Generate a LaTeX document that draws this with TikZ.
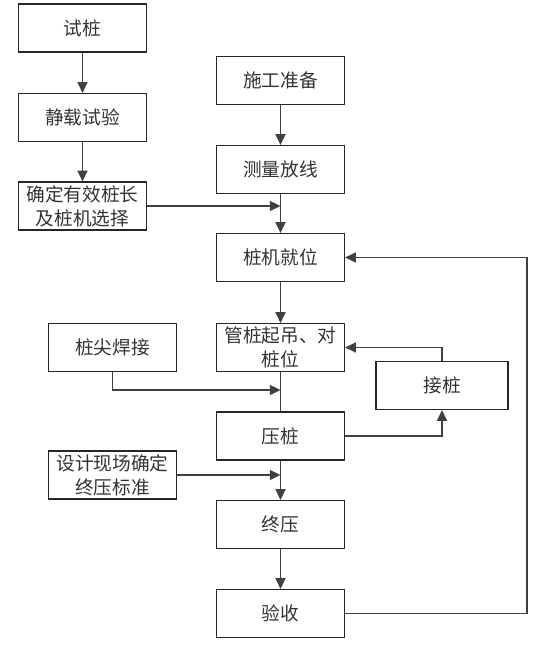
\documentclass[tikz,border=0pt]{standalone}
\usepackage{fontspec}
\newfontfamily\cjk{Noto Sans CJK SC}
\usetikzlibrary{arrows.meta}
\begin{document}
\begin{tikzpicture}
                        [box/.style={draw=black!85,line width=0.9pt,minimum width=96pt,minimum height=36pt,
                                align=center,inner sep=1pt,text=black!80,font=\cjk\fontsize{14}{18}\selectfont},
                        flow/.style={draw=black!75,line width=0.9pt,-{Triangle[length=8pt,width=7.5pt]}},
                        plain/.style={draw=black!75,line width=0.9pt},
                        x=0.75pt,y=-0.75pt]
                        \useasboundingbox (0,0) rectangle (549,645);
                        %Vorbereitung links
                        \node [box] (Try) at (82.5,28) {试桩};
                        \node [box] (Load) at (82.5,117.5) {静载试验};
                        \node [box] (Len) at (82.5,206) {确定有效桩长\\及桩机选择};
                        \node [box] (Tip) at (112.5,347.5) {桩尖焊接};
                        \node [box] (Std) at (112.5,475) {设计现场确定\\终压标准};
                        %Hauptablauf
                        \node [box] (Prep) at (280.5,80.5) {施工准备};
                        \node [box] (Meas) at (280.5,169.5) {测量放线};
                        \node [box] (Pos) at (280.5,257.5) {桩机就位};
                        \node [box] (Lift) at (280.5,347.5) {管桩起吊、对\\桩位};
                        \node [box] (Press) at (280.5,436) {压桩};
                        \node [box] (Final) at (280.5,524.5) {终压};
                        \node [box] (Acc) at (280.5,613.5) {验收};
                        \node [box,minimum width=99pt] (Join) at (442,385.5) {接桩};
                        %Hilfspunkte
                        \coordinate (TipIn) at (280.5,390);
                        \coordinate (Loop) at (527,0);
                        %Verbindungen
                        \draw [flow] (Try) -- (Load);
                        \draw [flow] (Load) -- (Len);
                        \draw [flow] (Prep) -- (Meas);
                        \draw [flow] (Meas) -- (Pos);
                        \draw [flow] (Len.east) -- (Len.east -| Meas.south);
                        \draw [flow] (Pos) -- (Lift);
                        \draw [plain] (Lift) -- (Press);
                        \draw [flow] (Tip.south) |- (TipIn);
                        \draw [flow] (Press) -- (Final);
                        \draw [flow] (Std.east) -- (Std.east -| Final.north);
                        \draw [flow] (Final) -- (Acc);
                        \draw [flow] (Press.east) -| (Join.south);
                        \draw [flow] (Join.north) |- (Lift.east);
                        \draw [flow] (Acc.east) -- (Acc.east -| Loop) |- (Pos.east);
                \end{tikzpicture}
\end{document}
